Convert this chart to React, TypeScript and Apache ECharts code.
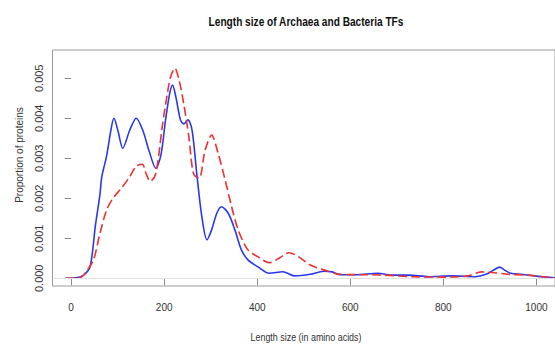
import React, { useEffect, useRef } from "react";
import * as echarts from "echarts";

const xTicks = [0, 200, 400, 600, 800, 1000];
const yTicks = [0, 0.001, 0.002, 0.003, 0.004, 0.005];

const bacteriaX = [-12, 10, 27, 41, 52, 62, 66, 76, 87, 92, 101, 111, 126, 140, 154, 168, 182, 193, 203, 212, 218, 225, 235, 242, 251, 260, 270, 281, 292, 302, 313, 323, 338, 352, 366, 380, 401, 426, 455, 480, 514, 543, 561, 578, 613, 659, 691, 726, 769, 818, 868, 892, 910, 921, 931, 945, 966, 995, 1027, 1045];
const bacteriaY = [0, 0.00001, 0.00008, 0.0003, 0.0013, 0.0021, 0.00254, 0.00304, 0.0038, 0.004, 0.00367, 0.00325, 0.0037, 0.004, 0.0037, 0.00317, 0.00275, 0.00308, 0.00396, 0.00463, 0.00483, 0.00454, 0.00396, 0.00386, 0.00396, 0.0037, 0.00262, 0.00154, 0.00096, 0.00121, 0.00162, 0.00179, 0.00162, 0.00121, 0.00071, 0.00046, 0.00029, 0.000125, 0.000165, 0.00006, 0.0001, 0.000175, 0.00016, 0.00009, 0.00009, 0.000125, 0.00008, 0.00008, 0.00004, 0.00006, 0.00004, 0.0001, 0.00022, 0.00028, 0.00021, 0.000125, 0.0001, 0.00006, 0.000025, 0.00001];

const archaeaX = [-12, 20, 30, 48, 62, 76, 90, 108, 126, 140, 153, 161, 170, 182, 196, 207, 214, 223, 232, 242, 253, 263, 275, 288, 302, 316, 331, 345, 359, 380, 401, 426, 447, 468, 490, 514, 543, 578, 627, 670, 734, 805, 853, 882, 910, 938, 981, 1027, 1045];
const archaeaY = [0, 0.00002, 0.000125, 0.00046, 0.00112, 0.0017, 0.002, 0.00225, 0.00254, 0.0028, 0.00285, 0.00262, 0.00242, 0.00262, 0.0038, 0.00463, 0.00504, 0.00525, 0.00496, 0.00437, 0.00354, 0.00262, 0.0025, 0.0032, 0.00358, 0.00312, 0.00246, 0.00179, 0.00121, 0.00071, 0.00054, 0.00039, 0.0005, 0.00064, 0.00053, 0.00033, 0.00021, 0.0001, 0.00009, 0.00008, 0.00004, 0.00003, 0.00006, 0.00016, 0.00014, 0.0001, 0.00008, 0.00002, 0.00001];

const zip = (xs: number[], ys: number[]) => xs.map((x, i) => [x, ys[i]]);

const REG = "'Liberation Sans', Arial, sans-serif";

export default function App() {
  const ref = useRef<HTMLDivElement>(null);
  useEffect(() => {
    if (!ref.current) return;
    const chart = echarts.init(ref.current, undefined, { renderer: "svg" });
    chart.setOption({
      animation: false,
      backgroundColor: "#ffffff",
      grid: {
        left: 52.5,
        top: 50,
        right: -6.3,
        bottom: 58,
        show: true,
        borderColor: "#9a9a9a",
        borderWidth: 1,
        backgroundColor: "transparent",
      },
      xAxis: {
        type: "value",
        min: -40,
        max: 1040,
        axisLine: { show: false },
        splitLine: { show: false },
        axisTick: {
          show: true,
          length: 7,
          lineStyle: { color: "#888" },
          customValues: xTicks,
        },
        axisLabel: {
          customValues: xTicks,
          margin: 16,
          color: "#333",
          fontSize: 10,
          fontFamily: REG,
          formatter: (v: number) => String(v),
        },
      },
      yAxis: {
        type: "value",
        min: -0.000193,
        max: 0.005707,
        axisLine: { show: false },
        splitLine: { show: false },
        axisTick: {
          show: true,
          length: 6.5,
          lineStyle: { color: "#888" },
          customValues: yTicks,
        },
        axisLabel: {
          customValues: yTicks,
          rotate: 90,
          margin: 8,
          color: "#333",
          fontSize: 11,
          fontFamily: REG,
          formatter: (v: number) => v.toFixed(3),
        },
      },
      graphic: [
        {
          type: "text",
          x: 306,
          y: 21,
          scaleX: 0.78,
          style: {
            text: "Length size of Archaea and Bacteria TFs",
            fontFamily: REG,
            fontWeight: "bold",
            fontSize: 13,
            fill: "#111",
            align: "center",
            verticalAlign: "middle",
          },
        },
        {
          type: "text",
          x: 306,
          y: 337,
          scaleX: 0.85,
          style: {
            text: "Length size (in amino acids)",
            fontFamily: REG,
            fontSize: 10.5,
            fill: "#333",
            align: "center",
            verticalAlign: "middle",
          },
        },
        {
          type: "text",
          x: 19,
          y: 155,
          rotation: Math.PI / 2,
          style: {
            text: "Proportion of proteins",
            fontFamily: REG,
            fontSize: 10,
            fill: "#333",
            align: "center",
            verticalAlign: "middle",
          },
        },
      ],
      series: [
        {
          type: "line",
          name: "Bacteria",
          data: zip(bacteriaX, bacteriaY),
          showSymbol: false,
          smooth: 0.3,
          lineStyle: { color: "#2a38ee", width: 1.6 },
          z: 3,
          markLine: {
            silent: true,
            symbol: "none",
            label: { show: false },
            lineStyle: { color: "#e2e2e2", width: 1, type: "solid" },
            data: [{ yAxis: 0 }],
          },
        },
        {
          type: "line",
          name: "Archaea",
          data: zip(archaeaX, archaeaY),
          showSymbol: false,
          smooth: 0.3,
          lineStyle: { color: "#ee3030", width: 1.6, type: [9, 4] },
          z: 4,
        },
      ],
    });
    return () => chart.dispose();
  }, []);
  return (
    <div
      ref={ref}
      style={{ position: "fixed", left: 0, top: 0, width: 555, height: 344 }}
    />
  );
}
